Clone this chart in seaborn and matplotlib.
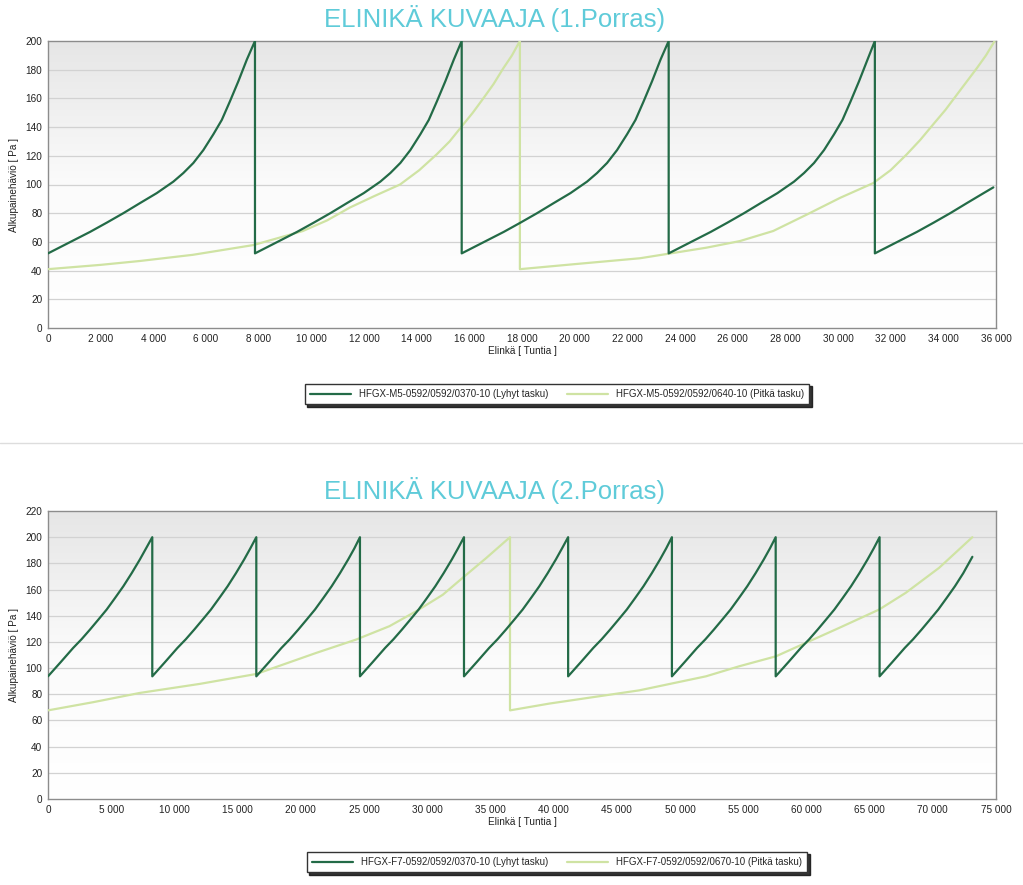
import numpy as np
import pandas as pd
import matplotlib
matplotlib.use("Agg")
import matplotlib.pyplot as plt
import seaborn as sns
from matplotlib.colors import LinearSegmentedColormap
from matplotlib.ticker import FuncFormatter

sns.set_theme(style="white")
plt.rcParams['font.family'] = ['Liberation Sans Narrow', 'Liberation Sans', 'DejaVu Sans']

# ---------------- data: chart 1 (1.Porras) ----------------
title1 = "ELINIKÄ KUVAAJA (1.Porras)"
name1_short = "HFGX-M5-0592/0592/0370-10 (Lyhyt tasku)"
name1_long = "HFGX-M5-0592/0592/0640-10 (Pitkä tasku)"
p1_short_h = [0, 960, 1600, 2230, 2860, 3490, 4130, 4760, 5140, 5520, 5900, 6280, 6600, 6910, 7230, 7550, 7860,
              7860, 8820, 9460, 10090, 10720, 11350, 11990, 12620, 13000, 13380, 13760, 14140, 14460, 14770, 15090, 15410, 15710,
              15710, 16670, 17310, 17940, 18570, 19200, 19840, 20470, 20850, 21230, 21610, 21990, 22310, 22620, 22940, 23260, 23570,
              23570, 24530, 25170, 25800, 26430, 27060, 27700, 28330, 28710, 29090, 29470, 29850, 30170, 30480, 30800, 31120, 31400,
              31400, 32360, 33000, 33630, 34260, 34890, 35530, 35900]
p1_short_v = [52, 61, 67, 73.4, 80, 87, 94, 102, 108, 115, 124, 135, 145, 158, 172, 187, 200,
              52, 61, 67, 73.4, 80, 87, 94, 102, 108, 115, 124, 135, 145, 158, 172, 187, 200,
              52, 61, 67, 73.4, 80, 87, 94, 102, 108, 115, 124, 135, 145, 158, 172, 187, 200,
              52, 61, 67, 73.4, 80, 87, 94, 102, 108, 115, 124, 135, 145, 158, 172, 187, 200,
              52, 61, 67, 73.4, 80, 87, 94, 98]
p1_long_h = [0, 2000, 3490, 5500, 7800, 9680, 10600, 11470, 12400, 13370, 14100, 14760, 15250, 15710,
             16130, 16530, 16920, 17290, 17620, 17920,
             17920, 20000, 22480, 25010, 26280, 27540, 28810, 30080, 31340, 32000, 32610, 33120, 33620,
             34080, 34510, 34900, 35270, 35620, 35950]
p1_long_v = [41, 44, 46.7, 51, 57.8, 67.6, 75, 84, 92, 100, 110, 121, 130, 140.5,
             150, 160, 170, 181, 190, 200,
             41, 44.5, 48.6, 56, 60.6, 67.6, 79, 90.7, 101, 110, 121, 131, 142,
             152, 162.5, 172, 181, 190, 200]
x1_max, x1_step = 36000, 2000
y1_max, y1_step = 200, 20

# ---------------- data: chart 2 (2.Porras) ----------------
title2 = "ELINIKÄ KUVAAJA (2.Porras)"
name2_short = "HFGX-F7-0592/0592/0370-10 (Lyhyt tasku)"
name2_long = "HFGX-F7-0592/0592/0670-10 (Pitkä tasku)"
p2_short_h = [0, 1000, 1990, 2650, 3320, 3980, 4640, 5300, 5960, 6620, 7270, 7760, 8250,
              8250, 9250, 10240, 10900, 11570, 12230, 12890, 13550, 14210, 14870, 15520, 16010, 16480,
              16480, 17480, 18470, 19130, 19800, 20460, 21120, 21780, 22440, 23100, 23750, 24240, 24680,
              24680, 25680, 26670, 27330, 28000, 28660, 29320, 29980, 30640, 31300, 31950, 32440, 32910,
              32910, 33910, 34900, 35560, 36230, 36890, 37550, 38210, 38870, 39530, 40180, 40670, 41150,
              41150, 42150, 43140, 43800, 44470, 45130, 45790, 46450, 47110, 47770, 48420, 48910, 49360,
              49360, 50360, 51350, 52010, 52680, 53340, 54000, 54660, 55320, 55980, 56630, 57120, 57570,
              57570, 58570, 59560, 60220, 60890, 61550, 62210, 62870, 63530, 64190, 64840, 65330, 65790,
              65790, 66790, 67780, 68440, 69110, 69770, 70430, 71090, 71750, 72410, 73130]
p2_short_v = [93.7, 104.5, 115.4, 122, 129.4, 137, 144.7, 153.5, 162.5, 172.5, 183, 191.5, 200,
              93.7, 104.5, 115.4, 122, 129.4, 137, 144.7, 153.5, 162.5, 172.5, 183, 191.5, 200,
              93.7, 104.5, 115.4, 122, 129.4, 137, 144.7, 153.5, 162.5, 172.5, 183, 191.5, 200,
              93.7, 104.5, 115.4, 122, 129.4, 137, 144.7, 153.5, 162.5, 172.5, 183, 191.5, 200,
              93.7, 104.5, 115.4, 122, 129.4, 137, 144.7, 153.5, 162.5, 172.5, 183, 191.5, 200,
              93.7, 104.5, 115.4, 122, 129.4, 137, 144.7, 153.5, 162.5, 172.5, 183, 191.5, 200,
              93.7, 104.5, 115.4, 122, 129.4, 137, 144.7, 153.5, 162.5, 172.5, 183, 191.5, 200,
              93.7, 104.5, 115.4, 122, 129.4, 137, 144.7, 153.5, 162.5, 172.5, 183, 191.5, 200,
              93.7, 104.5, 115.4, 122, 129.4, 137, 144.7, 153.5, 162.5, 172.5, 185]
p2_long_h = [0, 3600, 7250, 11990, 16480, 21220, 24380, 27010, 29120, 31230, 32810,
             34660, 36550, 36550, 39670, 46780, 52050, 54690, 57590, 59960, 62590,
             65750, 67860, 70500, 73130]
p2_long_v = [67.7, 74, 81, 87.9, 95.5, 111.6, 121.8, 132, 143.4, 156, 169,
             184, 200, 67.7, 72.9, 83, 93.7, 101.4, 109, 119.3, 130.7,
             144.7, 157.5, 176.6, 200]
x2_max, x2_step = 75000, 5000
y2_max, y2_step = 220, 20

xlabel = "Elinkä [ Tuntia ]"
ylabel = "Alkupainehäviö [ Pa ]"

DARK = "#236b47"
LIGHT = "#cfe3a3"
TITLE_C = "#5fcbd9"

fig = plt.figure(figsize=(10.23, 8.85), dpi=100)
W, H = 1023, 885

grad = LinearSegmentedColormap.from_list("g", ["#ffffff", "#fbfbfb", "#e6e6e6"])
fmt = FuncFormatter(lambda v, p: f"{int(v):,}".replace(",", " "))


def panel(rect_px, title, title_y, sh, sv, lh, lv, n_s, n_l, xmax, xstep, ymax, ystep, leg_y):
    l, t, r, b = rect_px
    ax = fig.add_axes([l / W, 1 - b / H, (r - l) / W, (b - t) / H])
    ax.imshow(np.linspace(0, 1, 256)[:, None][::-1], cmap=grad, aspect="auto",
              extent=[0, xmax, 0, ymax], zorder=0, origin="upper")
    df_s = pd.DataFrame({"h": sh, "v": sv})
    df_l = pd.DataFrame({"h": lh, "v": lv})
    sns.lineplot(data=df_l, x="h", y="v", ax=ax, sort=False, estimator=None,
                 color=LIGHT, lw=1.6, label=n_l, zorder=3)
    sns.lineplot(data=df_s, x="h", y="v", ax=ax, sort=False, estimator=None,
                 color=DARK, lw=1.6, label=n_s, zorder=4)
    ax.set_xlim(0, xmax)
    ax.set_ylim(0, ymax)
    ax.set_xticks(np.arange(0, xmax + 1, xstep))
    ax.set_yticks(np.arange(0, ymax + 1, ystep))
    ax.xaxis.set_major_formatter(fmt)
    ax.tick_params(axis="both", labelsize=7.2, length=0, pad=4, colors="#222222")
    for y in np.arange(ystep, ymax, ystep):
        ax.axhline(y, color="#d2d2d2", lw=0.9, zorder=1)
    for s in ax.spines.values():
        s.set_color("#8c8c8c")
        s.set_linewidth(1.0)
    ax.set_xlabel(xlabel, fontsize=7.2, labelpad=2, color="#222222")
    ax.set_ylabel(ylabel, fontsize=7.2, labelpad=5, color="#222222")
    ax.grid(False)
    handles, labels = ax.get_legend_handles_labels()
    order = [labels.index(n_s), labels.index(n_l)]
    ax.legend([handles[i] for i in order], [labels[i] for i in order],
              loc="center", bbox_to_anchor=(557 / W, 1 - leg_y / H),
              bbox_transform=fig.transFigure, ncol=2, fontsize=7,
              frameon=True, fancybox=False,
              shadow={"color": "#111111", "alpha": 0.85}, edgecolor="#333333",
              handlelength=4.2, columnspacing=2.0, borderpad=0.55)
    fig.text(495 / W, 1 - title_y / H, title, ha="center", va="center",
             fontsize=18.5, color=TITLE_C)
    return ax


panel((48, 41, 996, 328), title1, 18, p1_short_h, p1_short_v, p1_long_h, p1_long_v,
      name1_short, name1_long, x1_max, x1_step, y1_max, y1_step, 394)
panel((48, 511, 996, 799), title2, 490, p2_short_h, p2_short_v, p2_long_h, p2_long_v,
      name2_short, name2_long, x2_max, x2_step, y2_max, y2_step, 862)

fig.add_artist(plt.Line2D([0, 1], [1 - 443 / H, 1 - 443 / H], transform=fig.transFigure,
                          color="#dddddd", lw=1))

fig.savefig("out.png", dpi=100)
